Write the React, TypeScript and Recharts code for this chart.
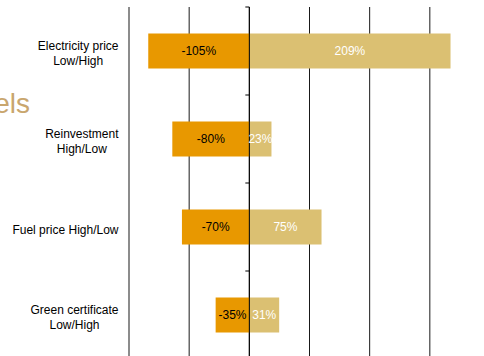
import { BarChart, Bar, XAxis, YAxis, CartesianGrid, ReferenceLine, LabelList } from 'recharts'

const categories = [
  ['Electricity price', 'Low/High'],
  ['Reinvestment', 'High/Low'],
  ['Fuel price High/Low'],
  ['Green certificate', 'Low/High'],
]
const lowValues = [-105, -80, -70, -35]
const highValues = [209, 23, 75, 31]
const xTicks = [-125, -62.5, 0, 62.5, 125, 187.5, 250]

const FONT = '"Liberation Sans", Arial, sans-serif'

const data = categories.map((lines, i) => ({
  name: lines.join(' '),
  low: lowValues[i],
  high: highValues[i],
}))

const linesByName: Record<string, string[]> = {}
categories.forEach((lines) => {
  linesByName[lines.join(' ')] = lines
})

let ctx: CanvasRenderingContext2D | null = null
function textWidth(s: string) {
  if (!ctx) {
    ctx = document.createElement('canvas').getContext('2d')
    if (ctx) ctx.font = `12px ${FONT}`
  }
  return ctx ? ctx.measureText(s).width : s.length * 6
}

function CategoryTick(props: any) {
  const { x, y, payload } = props
  const lines = linesByName[payload.value] || [payload.value]
  const maxW = Math.max(...lines.map(textWidth))
  const cx = x - 2.5 - maxW / 2
  const first = lines.length > 1 ? y - 1.5 : y + 6.5
  return (
    <text x={cx} y={first} textAnchor="middle" fontSize={12} fontFamily={FONT} fill="#000">
      {lines.map((l: string, i: number) => (
        <tspan key={i} x={cx} y={first + i * 15.5}>
          {l}
        </tspan>
      ))}
    </text>
  )
}

// zero line carrying the category axis ticks (pointing left)
function ZeroAxis(props: any) {
  const { x1, y1, x2, y2 } = props
  const n = categories.length
  const step = (y2 - y1) / n
  const ticks = []
  for (let i = 0; i <= n; i++) {
    const ty = y1 + step * i
    ticks.push(<line key={i} x1={x1 - 4} x2={x1} y1={ty} y2={ty} stroke="#000" strokeWidth={1} />)
  }
  return (
    <g>
      <line x1={x1} y1={y1} x2={x2} y2={y2} stroke="#000" strokeWidth={1} />
      {ticks}
    </g>
  )
}

export default function App() {
  return (
    <div
      style={{
        position: 'absolute',
        left: 0,
        top: 0,
        width: 484,
        height: 356,
        overflow: 'hidden',
        background: '#fff',
      }}
    >
      <div
        style={{
          position: 'absolute',
          right: 454,
          top: 86,
          fontFamily: FONT,
          fontSize: 28,
          lineHeight: '36px',
          color: '#C9A66E',
          whiteSpace: 'nowrap',
        }}
      >
        els
      </div>
      <BarChart
        width={500}
        height={365}
        data={data}
        layout="vertical"
        stackOffset="sign"
        barCategoryGap="30%"
        margin={{ top: 7, right: 10, left: 0, bottom: 6 }}
      >
        <CartesianGrid horizontal={false} stroke="#000" strokeOpacity={0.9} />
        <XAxis type="number" domain={[-125, 250]} ticks={xTicks} hide />
        <YAxis
          type="category"
          dataKey="name"
          width={129}
          axisLine={false}
          tickLine={false}
          tick={<CategoryTick />}
        />
        <Bar dataKey="low" stackId="s" fill="#E89800" isAnimationActive={false}>
          <LabelList
            dataKey="low"
            position="center"
            formatter={(v: any) => `${v}%`}
            fill="#000"
            fontSize={12}
            fontFamily={FONT}
          />
        </Bar>
        <Bar dataKey="high" stackId="s" fill="#DBC072" isAnimationActive={false}>
          <LabelList
            dataKey="high"
            position="center"
            formatter={(v: any) => `${v}%`}
            fill="#fff"
            fontSize={12}
            fontFamily={FONT}
          />
        </Bar>
        <ReferenceLine x={0} shape={<ZeroAxis />} />
      </BarChart>
    </div>
  )
}
